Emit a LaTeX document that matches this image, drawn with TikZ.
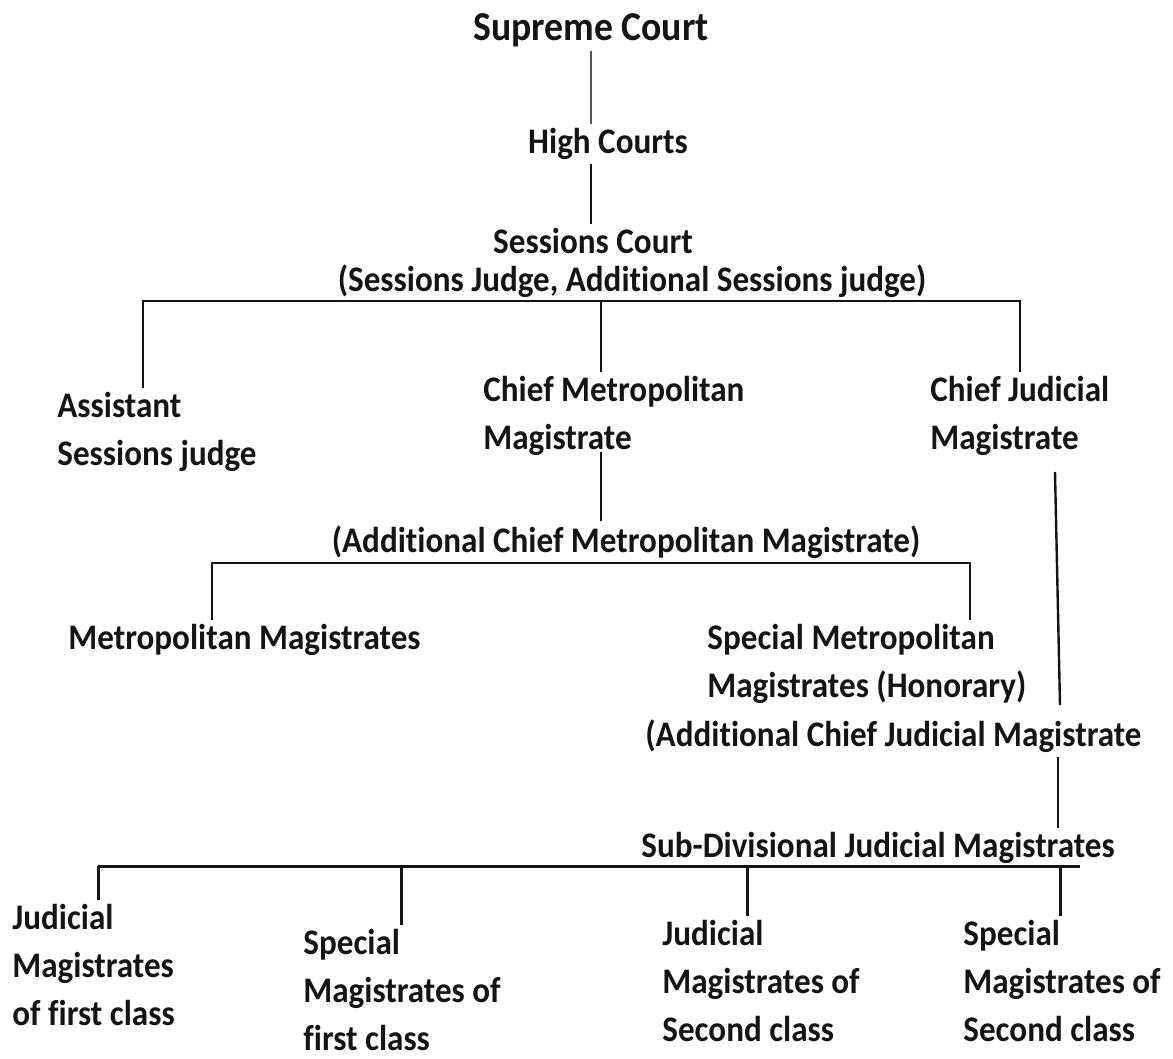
\documentclass[tikz,border=0pt]{standalone}
\usepackage{fontspec}
\setmainfont{Carlito}[FakeStretch=0.92, Ligatures=NoCommon]
\usepackage{tikz}
\usetikzlibrary{positioning}
\definecolor{InkDark}{HTML}{141414}
\definecolor{InkGrey}{HTML}{555555}
\tikzset{
    court/.style={text=InkDark, inner xsep=0pt, inner ysep=2pt, align=left,
        font=\fontsize{18}{24}\selectfont\bfseries},
    courtL/.style={court, anchor=west},
    link/.style={InkDark, line width=1.2pt},
    linkthin/.style={InkGrey, line width=0.6pt},
    linkbold/.style={InkDark, line width=1.5pt}
}

\begin{document}
\begin{tikzpicture}[x=0.5pt, y=-0.5pt]
    \useasboundingbox (0,0) rectangle (1173,1059);

    % upper chain
    \node[court, font=\fontsize{20.5}{24}\selectfont\bfseries] (sup) at (591,30) {Supreme Court};
    \node[court] (hc) at (608,144) {High Courts};
    \node[court] (sc) at (593,241) {Sessions Court};
    \node[court] (sj) at (632,281) {(Sessions Judge, Additional Sessions judge)};

    \draw[linkthin] (sup.south) -- (sup.south |- hc.north);
    \draw[link] (sup |- hc.south) -- (sup |- sc.north);

    % first level under sessions court
    \node[courtL] (asj) at (57,432) {Assistant\\Sessions judge};
    \node[courtL] (cmm) at (483,416) {Chief Metropolitan\\Magistrate};
    \node[courtL] (cjm) at (930,416) {Chief Judicial\\Magistrate};

    \coordinate (b1) at (143,301);
    \coordinate (b2) at (1020,301);
    \coordinate (b3) at (601,301);
    \draw[link] (b1 |- asj.north) -- (b1) -- (b2) -- (b2 |- cjm.north);
    \draw[link] (b3) -- (b3 |- cmm.north);

    % metropolitan branch
    \node[court] (acmm) at (626,542) {(Additional Chief Metropolitan Magistrate)};
    \draw[link] (601,452) -- (b3 |- acmm.north);

    \node[courtL] (mm) at (68,640) {Metropolitan Magistrates};
    \node[courtL] (smm) at (707,664) {Special Metropolitan\\Magistrates (Honorary)};

    \coordinate (c1) at (212,563);
    \coordinate (c2) at (970,563);
    \draw[link] (c1 |- mm.north) -- (c1) -- (c2) -- (c2 |- smm.north);

    % judicial branch
    \node[courtL] (acjm) at (645,736) {(Additional Chief Judicial Magistrate};
    \coordinate (d1) at (1055,472);
    \coordinate (d2) at (1060,705);
    \draw[link] (d1) -- (d2);

    \node[court] (sdjm) at (878,848) {Sub-Divisional Judicial Magistrates};
    \coordinate (d3) at (1058,0);
    \draw[link] (d3 |- acjm.south) -- (d3 |- sdjm.north);

    % lowest level
    \node[courtL] (jm1) at (12,965) {Judicial\\Magistrates\\of first class};
    \node[courtL] (sm1) at (303,990) {Special\\Magistrates of\\first class};
    \node[courtL] (jm2) at (662,981) {Judicial\\Magistrates of\\Second class};
    \node[courtL] (sm2) at (963,981) {Special\\Magistrates of\\Second class};

    \coordinate (e1) at (98,866);
    \coordinate (e2) at (1080,866);
    \draw[linkbold] (e1) -- (e2);
    \foreach \kid/\xx in {jm1/98, sm1/401, jm2/747, sm2/1060}
        \draw[linkbold] (\xx,866) -- (\xx,0 |- \kid.north);
\end{tikzpicture}
\end{document}
